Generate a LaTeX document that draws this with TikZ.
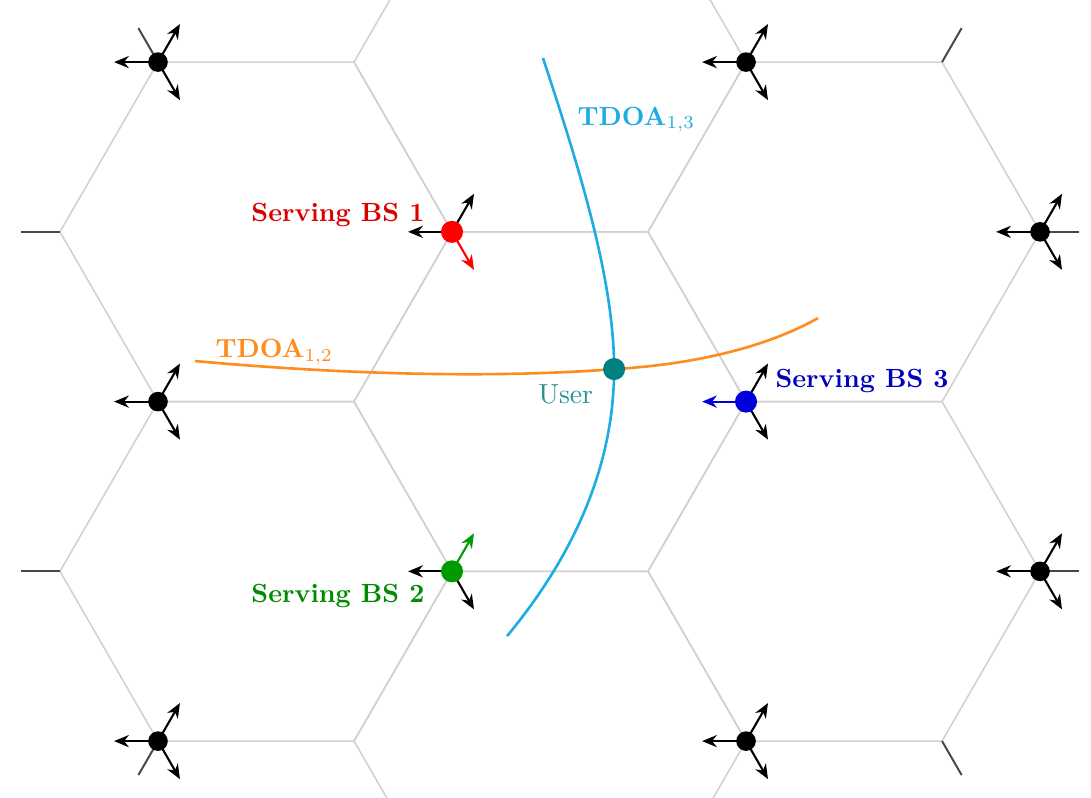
\documentclass[tikz,border=0pt]{standalone}
\usetikzlibrary{arrows.meta,positioning}

\definecolor{tdoaorange}{RGB}{255,140,30}
\definecolor{tdoacyan}{RGB}{30,172,228}
\definecolor{servred}{RGB}{255,0,0}
\definecolor{servgreen}{RGB}{0,155,0}
\definecolor{servblue}{RGB}{0,0,220}
\definecolor{userteal}{RGB}{0,128,128}

\tikzset{
	cell/.style={draw=black!18, line width=0.6pt},
	stub/.style={draw=black!72, line width=0.75pt},
	ant/.style={-{Stealth[length=5.6pt,width=4.6pt,inset=1.8pt]}, line width=0.8pt},
	site/.style={circle, fill=black, inner sep=0pt, minimum size=0.262cm},
	serving/.style={circle, inner sep=0pt, minimum size=0.295cm},
	tdoa/.style={line width=1pt},
	lbl/.style={inner sep=0pt, font=\bfseries}
}

\begin{document}
\begin{tikzpicture}[x=2.62cm, y=2.62cm]
	\pgfmathsetmacro{\hx}{sqrt(3)/2}
	\def\al{0.224}
	\useasboundingbox (-0.806,-0.2857) rectangle (4.760,3.781);
	\clip (-0.806,-0.2857) rectangle (4.760,3.781);

	% seven-cell cluster
	\foreach \cx/\cy in {0.5/1, 0.5/3, 2/0, 2/2, 2/4, 3.5/1, 3.5/3}
		\draw[cell] (\cx,\cy*\hx) ++(0:1) -- ++(120:1) -- ++(180:1) -- ++(240:1)
			-- ++(300:1) -- ++(0:1) -- cycle;
	% edges leaving the cluster
	\foreach \x/\y/\a in {0/4/120, -0.5/3/180, -0.5/1/180, 0/0/240,
			4/4/60, 4.5/3/0, 4.5/1/0, 4/0/300}
		\draw[stub] (\x,\y*\hx) -- ++(\a:0.2);

	% sites
	\foreach \n/\x/\y in {s1/0/0, s2/0/2, s3/0/4, s4/3/0, s5/3/4, s6/4.5/1, s7/4.5/3}
		\coordinate (\n) at (\x,\y*\hx);
	\coordinate (b1) at (1.5,3*\hx);
	\coordinate (b2) at (1.5,\hx);
	\coordinate (b3) at (3,2*\hx);
	\coordinate (u) at (2.327,1.898);

	% three sectors per site
	\foreach \n in {s1,s2,s3,s4,s5,s6,s7}
		\foreach \a in {180,60,-60}
			\draw[ant] (\n) -- ++(\a:\al);
	\foreach \a/\c in {180/black, 60/black, -60/servred}
		\draw[ant, \c] (b1) -- ++(\a:\al);
	\foreach \a/\c in {180/black, 60/servgreen, -60/black}
		\draw[ant, \c] (b2) -- ++(\a:\al);
	\foreach \a/\c in {180/servblue, 60/black, -60/black}
		\draw[ant, \c] (b3) -- ++(\a:\al);

	% hyperbolas
	\coordinate (t12a) at (0.189,1.939);
	\coordinate (t12b) at (3.367,2.158);
	\coordinate (t13a) at (1.964,3.485);
	\coordinate (t13b) at (1.781,0.536);
	\draw[tdoa, tdoaorange] (t12a) .. controls (0.980,1.867) and (1.745,1.852) .. (u)
		.. controls (2.765,1.923) and (3.122,2.020) .. (t12b);
	\draw[tdoa, tdoacyan] (t13a) .. controls (2.153,2.913) and (2.327,2.352) .. (u)
		.. controls (2.327,1.383) and (2.102,0.923) .. (t13b);

	\foreach \n in {s1,s2,s3,s4,s5,s6,s7}
		\node[site] (\n dot) at (\n) {};
	\node[serving, fill=servred]   (bs1)  at (b1) {};
	\node[serving, fill=servgreen] (bs2)  at (b2) {};
	\node[serving, fill=servblue]  (bs3)  at (b3) {};
	\node[serving, fill=userteal]  (user) at (u)  {};

	\node[lbl, text=servred!85!black,   anchor=base east] (l1) at (1.362,2.653) {Serving BS 1};
	\node[lbl, text=servgreen!90!black, anchor=base east] (l2) at (1.362,0.709) {Serving BS 2};
	\node[lbl, text=servblue!85!black,  anchor=base west] (l3) at (3.148,1.806) {Serving BS 3};
	\node[inner sep=0pt, text=userteal!85!white, anchor=base east, scale=1.05] (lu) at (2.222,1.724) {User};
	\node[lbl, text=tdoaorange, anchor=base west] (l12) at (0.291,1.959) {TDOA$_{1,2}$};
	\node[lbl, text=tdoacyan,   anchor=base west] (l13) at (2.138,3.143) {TDOA$_{1,3}$};
\end{tikzpicture}
\end{document}
